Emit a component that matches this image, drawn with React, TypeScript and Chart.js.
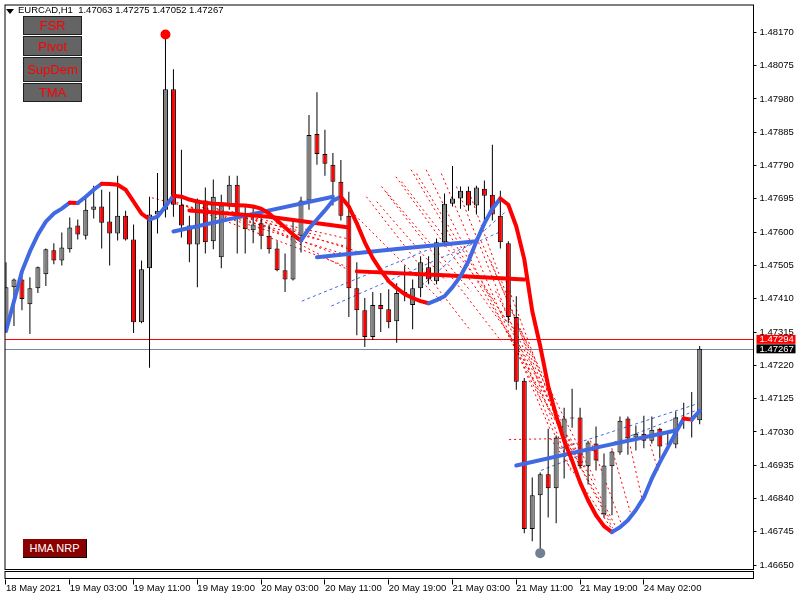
import React, { useEffect, useRef } from 'react';
import { Chart, registerables } from 'chart.js';

Chart.register(...registerables);

// ---------------- data ----------------
const timeLabels = ['18 May 2021', '19 May 03:00', '19 May 11:00', '19 May 19:00', '20 May 03:00', '20 May 11:00', '20 May 19:00', '21 May 03:00', '21 May 11:00', '21 May 19:00', '24 May 02:00'];
const timeTickIndex = [0, 8, 16, 24, 32, 40, 48, 56, 64, 72, 80];
const priceTicks = [1.4665, 1.46745, 1.4684, 1.46935, 1.4703, 1.47125, 1.4722, 1.47315, 1.4741, 1.47505, 1.476, 1.47695, 1.4779, 1.47885, 1.4798, 1.48075, 1.4817];

const opens = [1.47326, 1.47443, 1.47465, 1.47394, 1.4744, 1.4748, 1.47548, 1.47519, 1.47551, 1.47619, 1.4759, 1.47664, 1.47673, 1.4763, 1.47596, 1.47647, 1.47579, 1.47343, 1.47497, 1.4765, 1.47664, 1.48008, 1.47678, 1.47619, 1.47565, 1.4769, 1.47574, 1.47528, 1.47676, 1.47735, 1.47644, 1.47605, 1.47625, 1.4759, 1.47553, 1.47491, 1.47465, 1.4759, 1.4769, 1.4788, 1.47823, 1.47792, 1.47744, 1.47647, 1.4744, 1.47377, 1.47301, 1.47392, 1.4738, 1.47346, 1.47426, 1.47392, 1.4744, 1.475, 1.4746, 1.47571, 1.47681, 1.47696, 1.47718, 1.47676, 1.47724, 1.47707, 1.47647, 1.47568, 1.47358, 1.47176, 1.46753, 1.46849, 1.46909, 1.46869, 1.47011, 1.47068, 1.47071, 1.46932, 1.46997, 1.46795, 1.46932, 1.46971, 1.47068, 1.47014, 1.47025, 1.47005, 1.47039, 1.46994, 1.46994, 1.47071, 1.47071, 1.47063];
const highs = [1.47514, 1.47468, 1.4748, 1.47471, 1.47502, 1.47553, 1.47568, 1.47599, 1.47642, 1.47636, 1.47704, 1.47732, 1.47721, 1.47715, 1.47761, 1.47661, 1.47622, 1.47519, 1.47701, 1.47769, 1.48164, 1.48065, 1.47835, 1.47647, 1.47696, 1.47727, 1.4775, 1.47707, 1.47761, 1.47761, 1.47676, 1.47673, 1.4765, 1.47622, 1.47574, 1.47539, 1.47636, 1.47701, 1.47934, 1.47999, 1.47892, 1.47826, 1.47806, 1.47715, 1.47514, 1.47412, 1.47429, 1.47426, 1.47437, 1.47454, 1.47505, 1.47465, 1.47531, 1.47531, 1.47582, 1.4771, 1.47789, 1.4773, 1.4773, 1.47732, 1.47747, 1.47849, 1.47718, 1.47574, 1.47417, 1.47184, 1.469, 1.46914, 1.47039, 1.4702, 1.47099, 1.47153, 1.47099, 1.47005, 1.47045, 1.46968, 1.46977, 1.47074, 1.47074, 1.47048, 1.47076, 1.47074, 1.47042, 1.47025, 1.47088, 1.47113, 1.47144, 1.47275];
const lows = [1.4732, 1.47332, 1.47377, 1.47309, 1.47426, 1.47446, 1.47508, 1.47505, 1.47542, 1.47579, 1.47579, 1.47639, 1.47553, 1.47505, 1.47576, 1.47576, 1.47312, 1.4734, 1.47213, 1.47596, 1.47642, 1.47644, 1.47585, 1.47514, 1.47443, 1.47539, 1.47551, 1.47497, 1.47664, 1.47539, 1.47539, 1.47568, 1.47551, 1.47539, 1.47488, 1.47429, 1.47462, 1.47542, 1.47664, 1.47792, 1.47761, 1.47676, 1.47633, 1.47358, 1.47306, 1.47272, 1.47292, 1.47315, 1.47326, 1.47284, 1.47403, 1.47323, 1.47414, 1.47451, 1.47451, 1.47559, 1.47673, 1.47667, 1.47661, 1.4765, 1.47616, 1.47633, 1.47553, 1.4734, 1.4715, 1.46741, 1.46718, 1.46684, 1.46786, 1.46769, 1.46897, 1.47042, 1.46925, 1.4688, 1.4692, 1.46786, 1.46792, 1.46965, 1.46965, 1.46977, 1.46983, 1.46997, 1.46954, 1.46983, 1.46983, 1.47039, 1.47014, 1.47052];
const closes = [1.47443, 1.47465, 1.47409, 1.4744, 1.475, 1.47551, 1.47519, 1.47556, 1.47613, 1.47593, 1.47664, 1.47673, 1.47627, 1.47596, 1.47647, 1.47579, 1.47343, 1.47494, 1.4765, 1.47661, 1.48008, 1.47678, 1.47619, 1.47565, 1.47693, 1.47571, 1.47701, 1.47676, 1.47735, 1.47639, 1.47608, 1.47622, 1.4759, 1.47551, 1.47491, 1.47465, 1.4759, 1.4769, 1.47877, 1.47823, 1.47795, 1.47744, 1.47647, 1.4744, 1.47377, 1.47301, 1.47392, 1.4738, 1.47343, 1.47426, 1.47429, 1.4744, 1.47514, 1.47465, 1.47571, 1.47681, 1.47696, 1.47718, 1.47676, 1.47727, 1.47704, 1.4765, 1.47571, 1.47358, 1.47173, 1.46753, 1.46849, 1.46909, 1.46869, 1.47014, 1.47068, 1.47068, 1.46932, 1.47, 1.46948, 1.46934, 1.46974, 1.47062, 1.47011, 1.47025, 1.47005, 1.47036, 1.46988, 1.46994, 1.47071, 1.47068, 1.47065, 1.47267];

// HMA NRP line (one value per bar)
const hma = [1.47318, 1.47403, 1.47488, 1.47545, 1.47593, 1.4763, 1.47653, 1.47667, 1.47684, 1.47683, 1.47701, 1.47721, 1.47738, 1.47737, 1.47735, 1.47721, 1.47687, 1.47653, 1.47636, 1.47644, 1.47673, 1.47704, 1.47701, 1.47693, 1.47687, 1.47684, 1.47681, 1.4768, 1.47678, 1.47677, 1.47676, 1.47673, 1.47667, 1.47653, 1.47633, 1.47613, 1.47593, 1.47576, 1.4761, 1.47636, 1.47662, 1.4769, 1.47701, 1.47673, 1.47625, 1.47571, 1.47526, 1.47491, 1.4746, 1.4744, 1.47423, 1.47412, 1.47403, 1.47397, 1.47406, 1.47417, 1.47443, 1.47474, 1.47517, 1.47574, 1.47625, 1.47667, 1.47696, 1.47678, 1.47616, 1.47523, 1.47375, 1.47275, 1.47161, 1.47076, 1.47005, 1.46948, 1.46886, 1.46835, 1.46792, 1.46761, 1.46744, 1.46758, 1.46778, 1.46807, 1.46843, 1.46897, 1.46943, 1.46985, 1.47028, 1.47068, 1.47065, 1.4709];

// thick level / channel lines [barIndex, price]
const redLevel1 = [[23, 1.47662], [33, 1.47644], [43, 1.47613]];
const redLevel2 = [[44, 1.47488], [55, 1.47477], [65, 1.47465]];
const blueLevel1 = [[21, 1.47602], [31, 1.47652], [41, 1.47701]];
const blueLevel2 = [[39, 1.47528], [49, 1.47552], [59, 1.47574]];
const blueLevel3 = [[64, 1.46934], [74, 1.46985], [84, 1.47034]];

// dotted projection fans [i1, p1, i2, p2]
const redFans = [
  [18.3, 1.47698, 42.7, 1.47559], [20.2, 1.47693, 43.3, 1.47531], [22.1, 1.47678, 42.7, 1.47502],
  [24.6, 1.4767, 39.6, 1.47588], [26.5, 1.47664, 43.3, 1.47579], [29.6, 1.47653, 43.3, 1.47488],
  [25.8, 1.47673, 42.1, 1.47531], [28.3, 1.47659, 44.0, 1.47545],
  [43.3, 1.47659, 54.6, 1.47403], [45.2, 1.47701, 58.3, 1.47318], [47.1, 1.4773, 62.1, 1.47289],
  [48.9, 1.47758, 64.6, 1.47261], [50.8, 1.47778, 65.8, 1.47204], [52.7, 1.47778, 67.1, 1.47119],
  [54.6, 1.47767, 68.3, 1.47034], [56.5, 1.4773, 69.6, 1.46977], [58.3, 1.47701, 70.8, 1.4692],
  [47.7, 1.47715, 58.3, 1.47431], [49.6, 1.47744, 61.2, 1.47403], [51.5, 1.47767, 62.7, 1.47346],
  [46.5, 1.47687, 55.2, 1.4746],
  [59.6, 1.47574, 69.6, 1.47062], [60.8, 1.47517, 70.2, 1.47005], [61.4, 1.47431, 71.5, 1.46963],
  [62.1, 1.47375, 72.7, 1.4692], [62.7, 1.4746, 68.3, 1.47119], [64.6, 1.47318, 73.9, 1.46892],
  [62.7, 1.47318, 75.8, 1.46778], [64.0, 1.47275, 76.1, 1.46755], [68.3, 1.47011, 76.1, 1.46749],
  [70.8, 1.47011, 76.5, 1.46758], [73.3, 1.47005, 77.1, 1.46772], [75.8, 1.46997, 78.3, 1.46801],
  [78.3, 1.46988, 79.8, 1.46835], [80.8, 1.46994, 81.8, 1.4692], [63.1, 1.47008, 69.6, 1.47011],
];
const blueFans = [
  [37.1, 1.47403, 53.3, 1.47553], [40.8, 1.47389, 62.1, 1.47602], [52.1, 1.47446, 62.7, 1.47659],
  [67.1, 1.4692, 87.1, 1.47096], [69.6, 1.46983, 87.1, 1.47113],
];

const askPrice = 1.47294;
const bidPrice = 1.47267;
const highMarkIndex = 20;
const lowMarkIndex = 67;

// view range
const xMin = -0.125;
const xMax = 93.75;
const yMin = 1.466373;
const yMax = 1.482481;

const FONT = '"Liberation Sans", Arial, sans-serif';
const RED = '#ff0000';
const BLUE = '#4169e1';
const GREY_BODY = '#808080';

const overlayPlugin = {
  id: 'mt4Overlay',
  beforeDatasetsDraw(chart: any) {
    const { ctx, chartArea: a, scales } = chart;
    const y = scales.y;
    ctx.save();
    ctx.lineWidth = 1;
    ([[askPrice, RED], [bidPrice, '#778899']] as [number, string][]).forEach(([p, c]) => {
      const py = Math.round(y.getPixelForValue(p)) + 0.5;
      ctx.strokeStyle = c;
      ctx.beginPath();
      ctx.moveTo(a.left, py);
      ctx.lineTo(a.right, py);
      ctx.stroke();
    });
    ctx.restore();
  },
  afterDraw(chart: any) {
    const { ctx, chartArea: a, scales } = chart;
    const x = scales.x;
    const y = scales.y;
    ctx.save();
    ctx.strokeStyle = '#000';
    ctx.lineWidth = 1;
    ctx.strokeRect(a.left, a.top, a.right - a.left, a.bottom - a.top);
    ctx.strokeRect(a.left, a.bottom + 2, a.right - a.left, 7);
    ctx.beginPath();
    timeTickIndex.forEach((v) => {
      const px = Math.floor(x.getPixelForValue(v)) + 0.5;
      ctx.moveTo(px, a.bottom + 10);
      ctx.lineTo(px, a.bottom + 15);
    });
    ctx.stroke();
    // price tags
    ([[askPrice, RED], [bidPrice, '#000']] as [number, string][]).forEach(([p, bg]) => {
      const py = y.getPixelForValue(p);
      ctx.fillStyle = bg;
      ctx.fillRect(a.right + 3, py - 4.5, 39, 9);
      ctx.fillStyle = '#fff';
      ctx.font = `9.5px ${FONT}`;
      ctx.textBaseline = 'middle';
      ctx.textAlign = 'left';
      ctx.fillText(p.toFixed(5), a.right + 6, py + 0.5);
    });
    ctx.restore();
  },
};

const btnStyle = (top: number, h: number): React.CSSProperties => ({
  position: 'absolute', left: 23, top, width: 59, height: h, boxSizing: 'border-box',
  background: '#646464', border: '1px solid #1e1e1e', color: RED,
  font: `13px ${FONT}`, display: 'flex', alignItems: 'center', justifyContent: 'center',
});

const zeroPad = (s: any) => {
  s.paddingLeft = 0;
  s.paddingRight = 0;
  s.paddingTop = 0;
  s.paddingBottom = 0;
};

export default function App() {
  const ref = useRef<HTMLCanvasElement | null>(null);

  useEffect(() => {
    if (!ref.current) return;
    const tickFont = { family: FONT, size: 9.5 };
    const wickData = opens.map((_, i) => ({ x: i, y: [lows[i], highs[i]] }));
    const bodyData = opens.map((o, i) => ({ x: i, y: [o, closes[i]] }));
    const bodyColors = opens.map((o, i) => (closes[i] >= o ? GREY_BODY : RED));
    const toPts = (arr: number[][]) => arr.map(([i, p]) => ({ x: i, y: p }));

    const fanSets: any[] = [];
    redFans.forEach((f) => fanSets.push({
      type: 'line', data: [{ x: f[0], y: f[1] }, { x: f[2], y: f[3] }], borderColor: RED,
      borderWidth: 1, borderDash: [2, 3], pointRadius: 0, order: 60,
    }));
    blueFans.forEach((f) => fanSets.push({
      type: 'line', data: [{ x: f[0], y: f[1] }, { x: f[2], y: f[3] }], borderColor: BLUE,
      borderWidth: 1, borderDash: [3, 3], pointRadius: 0, order: 60,
    }));

    const levelSet = (arr: number[][], color: string) => ({
      type: 'line', data: toPts(arr), borderColor: color, borderWidth: 4,
      pointRadius: 0, order: 20, borderCapStyle: 'round',
    });

    const chart = new Chart(ref.current, {
      type: 'bar',
      data: {
        datasets: [
          ...fanSets,
          {
            type: 'bar', data: wickData as any, backgroundColor: '#000', borderWidth: 0,
            barThickness: 1, grouped: false, inflateAmount: 0, order: 40,
          },
          {
            type: 'bar', data: bodyData as any, backgroundColor: bodyColors, borderColor: '#000',
            borderWidth: 1, borderSkipped: false, barThickness: 5, grouped: false,
            inflateAmount: 0, minBarLength: 1, order: 30,
          },
          levelSet(redLevel1, RED),
          levelSet(redLevel2, RED),
          levelSet(blueLevel1, BLUE),
          levelSet(blueLevel2, BLUE),
          levelSet(blueLevel3, BLUE),
          {
            type: 'line', data: hma.map((v, i) => ({ x: i, y: v })), borderWidth: 4,
            pointRadius: 0, order: 10, borderJoinStyle: 'round', borderCapStyle: 'round',
            borderColor: BLUE,
            segment: {
              borderColor: (c: any) => (c.p1.parsed.y < c.p0.parsed.y ? RED : BLUE),
            },
          },
          {
            type: 'line', showLine: false, data: [{ x: highMarkIndex, y: highs[highMarkIndex] }],
            pointRadius: 5, pointBackgroundColor: RED, pointBorderWidth: 0, order: 5,
          },
          {
            type: 'line', showLine: false, data: [{ x: lowMarkIndex, y: lows[lowMarkIndex] }],
            pointRadius: 5, pointBackgroundColor: '#708090', pointBorderWidth: 0, order: 5,
          },
        ] as any,
      },
      options: {
        responsive: false,
        maintainAspectRatio: false,
        animation: false,
        devicePixelRatio: 1,
        events: [],
        layout: { padding: { left: 2.5, top: 2.5, right: 0, bottom: 0 } },
        plugins: { legend: { display: false }, tooltip: { enabled: false } },
        scales: {
          x: {
            type: 'linear', min: xMin, max: xMax, offset: false,
            afterBuildTicks: (s: any) => { s.ticks = timeTickIndex.map((v) => ({ value: v })); },
            afterFit: (s: any) => { s.height = 30.5; zeroPad(s); },
            grid: { display: false, drawTicks: false, offset: false },
            border: { display: false },
            ticks: {
              align: 'start', padding: 13, maxRotation: 0, minRotation: 0, autoSkip: false,
              color: '#000', font: tickFont,
              callback: (_v: any, i: number) => timeLabels[i] ?? '',
            },
          },
          y: {
            type: 'linear', position: 'right', min: yMin, max: yMax,
            afterBuildTicks: (s: any) => { s.ticks = priceTicks.map((v) => ({ value: v })); },
            afterFit: (s: any) => { s.width = 46.5; zeroPad(s); },
            grid: { display: true, drawOnChartArea: false, drawTicks: true, tickLength: 3, color: '#000' },
            border: { display: true, color: '#000' },
            ticks: {
              padding: 3, autoSkip: false, color: '#000', font: tickFont,
              callback: (v: any) => Number(v).toFixed(5),
            },
          },
        },
      } as any,
      plugins: [overlayPlugin],
    });
    return () => chart.destroy();
  }, []);

  return (
    <div style={{ position: 'absolute', left: 0, top: 0, width: 800, height: 600, background: '#fff' }}>
      <canvas ref={ref} width={800} height={600} style={{ display: 'block', width: 800, height: 600 }} />
      <div style={{
        position: 'absolute', left: 6, top: 9, width: 0, height: 0,
        borderLeft: '4px solid transparent', borderRight: '4px solid transparent', borderTop: '5px solid #000',
      }} />
      <div style={{
        position: 'absolute', left: 18, top: 4, font: `9.5px ${FONT}`, lineHeight: '12px',
        whiteSpace: 'pre', color: '#000',
      }}>EURCAD,H1  1.47063 1.47275 1.47052 1.47267</div>
      <div style={btnStyle(16, 19)}>FSR</div>
      <div style={btnStyle(36, 20)}>Pivot</div>
      <div style={btnStyle(57, 25)}>SupDem</div>
      <div style={btnStyle(83, 19)}>TMA</div>
      <div style={{
        position: 'absolute', left: 23, top: 539, width: 64, height: 19, boxSizing: 'border-box',
        background: '#8b0000', borderRight: '1px solid #000', borderBottom: '1px solid #000',
        color: '#fff', font: `11px ${FONT}`, display: 'flex', alignItems: 'center', justifyContent: 'center',
      }}>HMA NRP</div>
    </div>
  );
}
